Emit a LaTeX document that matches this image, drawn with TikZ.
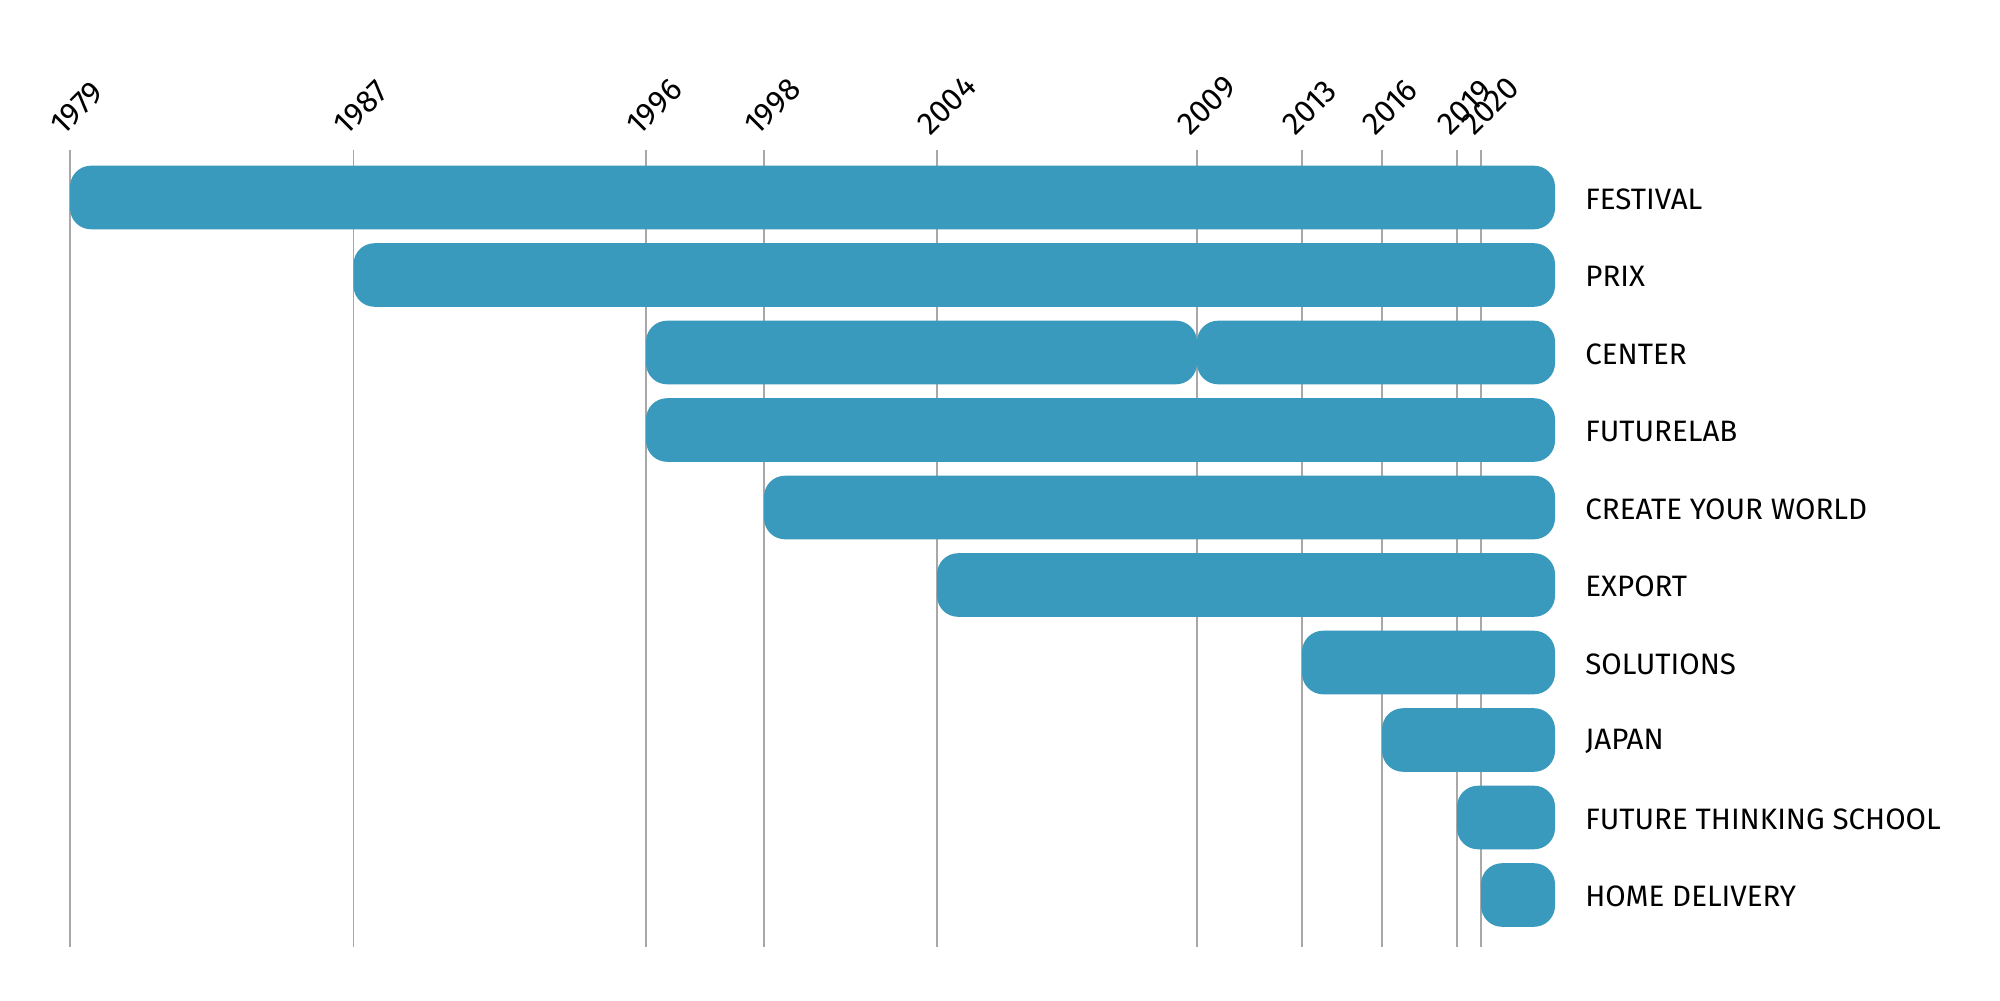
\documentclass[tikz,border=0pt]{standalone}
\usepackage{fontspec}
\setmainfont{Fira Sans}
\definecolor{barblue}{HTML}{3A9ABD}
\definecolor{gridgrey}{HTML}{A8A8A8}
\begin{document}
\begin{tikzpicture}[x=0.02cm,y=-0.02cm,
  bar/.style={fill=barblue, rounded corners=0.42cm},
  yearline/.style={draw=gridgrey, line width=0.8pt},
  yearlbl/.style={rotate=45, anchor=base west, inner sep=0pt, font=\fontsize{18}{18}\selectfont},
  rowlbl/.style={anchor=west, inner sep=0pt, font=\fontsize{16.8}{16.8}\selectfont}]
\useasboundingbox (0,0) rectangle (2000,1000);

% year lines
\foreach \yr/\x in {1979/70, 1987/353.5, 1996/646, 1998/764, 2004/937,
                    2009/1197, 2013/1302, 2016/1382, 2019/1457, 2020/1481}{
  \draw[yearline] (\x,150) -- (\x,947);
  \node[yearlbl] (y\yr) at (\x-7,137) {\yr};
}

% bars
\foreach \i/\s/\e in {0/70/1555, 1/353.5/1555, 2/646/1197, 2/1197/1555,
                      3/646/1555, 4/764/1555, 5/937/1555, 6/1302/1555,
                      7/1382/1555, 8/1457/1555, 9/1481/1555}{
  \fill[bar] (\s,165.7+77.5*\i) rectangle (\e,229.3+77.5*\i);
}

% row labels
\foreach \i/\name/\txt in {0/festival/FESTIVAL, 1/prix/PRIX, 2/center/CENTER,
                           3/futurelab/FUTURELAB, 4/cyw/CREATE YOUR WORLD,
                           5/export/EXPORT, 6/solutions/SOLUTIONS, 7/japan/JAPAN,
                           8/fts/FUTURE THINKING SCHOOL, 9/home/HOME DELIVERY}{
  \node[rowlbl] (\name) at (1585,199+77.5*\i) {\txt};
}
\end{tikzpicture}
\end{document}
